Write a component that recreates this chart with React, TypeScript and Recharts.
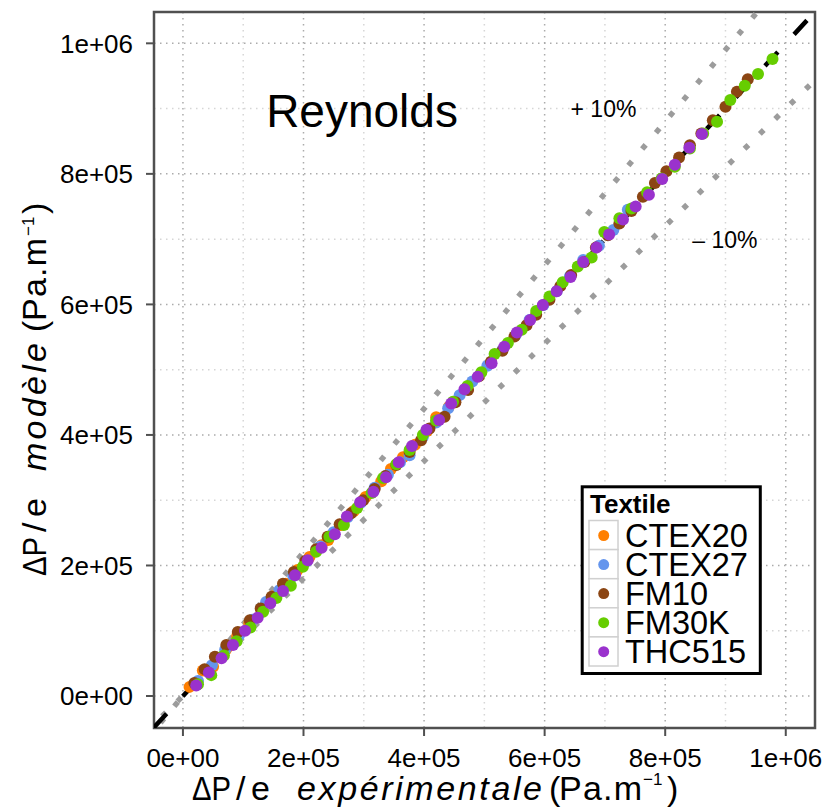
import React from 'react';
import {
  ScatterChart,
  Scatter,
  XAxis,
  YAxis,
  CartesianGrid,
  ReferenceArea,
  Legend,
} from 'recharts';

const FONT = '"Liberation Sans", Arial, Helvetica, sans-serif';

// Axes
const X_DOMAIN = [-48000, 1048500];
const Y_DOMAIN = [-49000, 1048000];
const TICKS = [0, 200000, 400000, 600000, 800000, 1000000];
const TICK_LABELS = ['0e+00', '2e+05', '4e+05', '6e+05', '8e+05', '1e+06'];
const MAJOR_GRID = [0, 200000, 400000, 600000, 800000, 1000000];
const MINOR_GRID = [100000, 300000, 500000, 700000, 900000];

// Series
const SERIES_NAMES = ['CTEX20', 'CTEX27', 'FM10', 'FM30K', 'THC515'];
const SERIES_COLORS = ['#FF7F00', '#6495ED', '#8B4513', '#66CD00', '#9A32CD'];

const ctex20X = [11000, 33000, 50000, 72000, 90000, 110000, 130000, 150000, 171000, 190000, 210000, 230000, 241000, 262000, 283000, 303000, 329000, 345000, 365000, 385000, 405000, 420000, 441000];
const ctex20Y = [14000, 39000, 45000, 72000, 92000, 112000, 133000, 153000, 172000, 193000, 213000, 231000, 239000, 262000, 283000, 305000, 329000, 348000, 366000, 385000, 406000, 427000, 443000];

const ctex27X = [25000, 48000, 70000, 93000, 115000, 138000, 160000, 183000, 205000, 228000, 250000, 273000, 295000, 318000, 340000, 360000, 376000, 398000, 420000, 440000, 459000, 480000, 505000, 530000, 552000, 575000, 598000, 620000, 642000, 664000, 690000, 714000, 738000];
const ctex27Y = [23000, 47000, 71000, 93000, 117000, 144000, 162000, 184000, 206000, 229000, 251000, 274000, 296000, 319000, 339000, 358000, 369000, 397000, 419000, 441000, 461000, 482000, 506000, 530000, 553000, 576000, 599000, 620000, 643000, 668000, 690000, 714000, 745000];

const fm10X = [19000, 36000, 53000, 72000, 91000, 111000, 129000, 147000, 166000, 184000, 203000, 221000, 240000, 260000, 279000, 299000, 318000, 336000, 354000, 376000, 395000, 409000, 434000, 452000, 473000, 491000, 511000, 530000, 550000, 570000, 586000, 608000, 626000, 644000, 666000, 685000, 705000, 724000, 744000, 763000, 783000, 802000, 823000, 841000, 860000, 879000, 900000, 919000, 937000];
const fm10Y = [20000, 41000, 60000, 78000, 98000, 116000, 134000, 152000, 172000, 190000, 207000, 225000, 244000, 263000, 280000, 300000, 317000, 337000, 354000, 374000, 392000, 410000, 428000, 450000, 469000, 490000, 512000, 529000, 551000, 568000, 584000, 607000, 628000, 645000, 665000, 687000, 706000, 724000, 743000, 765000, 786000, 804000, 825000, 844000, 862000, 882000, 903000, 926000, 945000];

const fm30kX = [25000, 47000, 68000, 89000, 112000, 133000, 155000, 179000, 199000, 221000, 243000, 267000, 289000, 313000, 332000, 354000, 376000, 398000, 420000, 448000, 472000, 495000, 517000, 539000, 562000, 586000, 608000, 630000, 655000, 678000, 699000, 724000, 744000, 770000, 794000, 816000, 841000, 863000, 886000, 908000, 932000, 954000, 978000];
const fm30kY = [18000, 32000, 62000, 84000, 105000, 129000, 150000, 169000, 198000, 221000, 244000, 262000, 288000, 311000, 334000, 355000, 377000, 400000, 422000, 451000, 475000, 496000, 524000, 541000, 561000, 590000, 612000, 634000, 658000, 672000, 711000, 732000, 747000, 772000, 793000, 811000, 839000, 862000, 880000, 913000, 935000, 953000, 976000];

const thc515X = [22000, 43000, 64000, 83000, 103000, 124000, 145000, 166000, 186000, 207000, 230000, 252000, 272000, 294000, 316000, 337000, 358000, 380000, 404000, 425000, 445000, 467000, 489000, 512000, 533000, 554000, 576000, 597000, 620000, 643000, 664000, 686000, 707000, 730000, 751000, 773000, 795000, 816000, 840000, 861000];
const thc515Y = [16000, 36000, 58000, 78000, 100000, 120000, 142000, 161000, 185000, 208000, 227000, 248000, 275000, 297000, 313000, 335000, 358000, 383000, 408000, 423000, 448000, 470000, 489000, 510000, 535000, 557000, 576000, 599000, 620000, 642000, 665000, 687000, 707000, 730000, 750000, 768000, 792000, 814000, 840000, 861000];

const SERIES_X = [ctex20X, ctex27X, fm10X, fm30kX, thc515X];
const SERIES_Y = [ctex20Y, ctex27Y, fm10Y, fm30kY, thc515Y];

// Reference lines (y = x, +10 %, -10 %)
const IDENTITY_LINE = [
  { x: -48500, y: -48500 },
  { x: 1048500, y: 1048500 },
];
const PLUS10_LINE = [
  { x: -60000, y: -66000 },
  { x: 1000000, y: 1100000 },
];
const MINUS10_LINE = [
  { x: -60000, y: -54000 },
  { x: 1100000, y: 990000 },
];

// Annotations
const ANNOTATION_TEXT = ['Reynolds', '+ 10%', '\u2013 10%'];
const ANNOTATION_X = [138000, 643000, 845000];
const ANNOTATION_Y = [872000, 887000, 686000];
const ANNOTATION_SIZE = [46, 23, 23];

const zip = (xs: number[], ys: number[]) => xs.map((x, i) => ({ x, y: ys[i] }));

const tickFmt = (v: number) => {
  const i = TICKS.indexOf(v);
  return i >= 0 ? TICK_LABELS[i] : '';
};

const XLabel = () => (
  <g fontFamily={FONT} fill="#000">
    <text x={192} y={800} fontSize={34} textLength={39} lengthAdjust="spacingAndGlyphs">ΔP</text>
    <text x={236} y={800} fontSize={34}>/</text>
    <text x={251} y={800} fontSize={34}>e</text>
    <text x={297} y={800} fontSize={34} fontStyle="italic" textLength={245} lengthAdjust="spacing">
      expérimentale
    </text>
    <text x={549} y={800} fontSize={34}>(</text>
    <text x={559} y={800} fontSize={34} textLength={83} lengthAdjust="spacing">Pa.m</text>
    <text x={643} y={785} fontSize={17}>{'\u22121'}</text>
    <text x={667} y={800} fontSize={34}>)</text>
  </g>
);

const YLabel = () => (
  <g transform="translate(46,576) rotate(-90)" fontFamily={FONT} fill="#000">
    <text x={0} y={0} fontSize={34} textLength={39} lengthAdjust="spacingAndGlyphs">ΔP</text>
    <text x={44} y={0} fontSize={34}>/</text>
    <text x={59} y={0} fontSize={34}>e</text>
    <text x={105} y={0} fontSize={34} fontStyle="italic" textLength={128} lengthAdjust="spacing">
      modèle
    </text>
    <text x={244} y={0} fontSize={34}>(</text>
    <text x={255} y={0} fontSize={34} textLength={83} lengthAdjust="spacing">Pa.m</text>
    <text x={340} y={-12} fontSize={17}>{'\u22121'}</text>
    <text x={362} y={0} fontSize={34}>)</text>
  </g>
);

const LegendBox = () => (
  <svg width={182} height={191} style={{ display: 'block' }}>
    <rect x={2.2} y={1.8} width={178.1} height={186.7} fill="#fff" stroke="#000" strokeWidth={3} />
    <text x={10} y={28.2} fontFamily={FONT} fontWeight="bold" fontSize={26} fill="#000">
      Textile
    </text>
    {SERIES_NAMES.map((name, i) => (
      <g key={name}>
        <rect x={9} y={35.5 + i * 29.1} width={29} height={29.1} fill="#fff" stroke="#D0D0D0" strokeWidth={1.5} />
        <circle cx={23.7} cy={50.5 + i * 29.05} r={5.5} fill={SERIES_COLORS[i]} />
        <text x={45} y={62.2 + i * 28.9} fontFamily={FONT} fontSize={32.5} fill="#000">
          {name}
        </text>
      </g>
    ))}
  </svg>
);

const dot = (color: string) => (p: any) => <circle cx={p.cx} cy={p.cy} r={6} fill={color} />;
const noShape = () => <g />;

export default function App() {
  return (
    <div style={{ position: 'absolute', left: 0, top: 0, width: 825, height: 808, background: '#fff' }}>
      <ScatterChart width={825} height={808} margin={{ top: 12, right: 10, bottom: 0, left: 0 }}>
        <CartesianGrid
          verticalValues={MINOR_GRID}
          horizontalValues={MINOR_GRID}
          stroke="#D6D6D6"
          strokeWidth={1.5}
          strokeDasharray="1.5 4.5"
        />
        <CartesianGrid
          verticalValues={MAJOR_GRID}
          horizontalValues={MAJOR_GRID}
          stroke="#ABABAB"
          strokeWidth={1.5}
          strokeDasharray="1.5 4.5"
        />
        <XAxis
          type="number"
          dataKey="x"
          domain={X_DOMAIN}
          allowDataOverflow
          ticks={TICKS}
          tickFormatter={tickFmt}
          height={80}
          axisLine={false}
          tickSize={8}
          tickMargin={13}
          tickLine={{ stroke: '#505050', strokeWidth: 2 }}
          tick={{ fontSize: 26, fill: '#000', fontFamily: FONT }}
          label={<XLabel />}
        />
        <YAxis
          type="number"
          dataKey="y"
          domain={Y_DOMAIN}
          allowDataOverflow
          ticks={TICKS}
          tickFormatter={tickFmt}
          width={154}
          axisLine={false}
          tickSize={8}
          tickMargin={13}
          tickLine={{ stroke: '#505050', strokeWidth: 2 }}
          tick={{ fontSize: 26, fill: '#000', fontFamily: FONT }}
          label={<YLabel />}
        />
        <ReferenceArea
          x1={X_DOMAIN[0]}
          x2={X_DOMAIN[1]}
          y1={Y_DOMAIN[0]}
          y2={Y_DOMAIN[1]}
          fill="none"
          fillOpacity={0}
          stroke="#505050"
          strokeWidth={2.5}
        />
        <Scatter
          data={PLUS10_LINE}
          line={{ stroke: '#9C9C9C', strokeWidth: 5.5, strokeDasharray: '5.5 15.9' }}
          shape={noShape}
          legendType="none"
          isAnimationActive={false}
        />
        <Scatter
          data={MINUS10_LINE}
          line={{ stroke: '#9C9C9C', strokeWidth: 5.5, strokeDasharray: '5.5 15.9' }}
          shape={noShape}
          legendType="none"
          isAnimationActive={false}
        />
        <Scatter
          data={IDENTITY_LINE}
          line={{ stroke: '#000', strokeWidth: 4.5, strokeDasharray: '19 23.9' }}
          shape={noShape}
          legendType="none"
          isAnimationActive={false}
        />
        {SERIES_NAMES.map((name, i) => (
          <Scatter
            key={name}
            name={name}
            data={zip(SERIES_X[i], SERIES_Y[i])}
            fill={SERIES_COLORS[i]}
            shape={dot(SERIES_COLORS[i])}
            isAnimationActive={false}
          />
        ))}
        {ANNOTATION_TEXT.map((t, i) => (
          <Scatter
            key={t}
            data={[{ x: ANNOTATION_X[i], y: ANNOTATION_Y[i] }]}
            legendType="none"
            isAnimationActive={false}
            shape={(p: any) => (
              <text x={p.cx} y={p.cy} fontFamily={FONT} fontSize={ANNOTATION_SIZE[i]} fill="#000">
                {t}
              </text>
            )}
          />
        ))}
        <Legend
          layout="vertical"
          align="center"
          verticalAlign="middle"
          content={<LegendBox />}
          wrapperStyle={{ position: 'absolute', left: 580, top: 484.5, width: 182, height: 191 }}
        />
      </ScatterChart>
    </div>
  );
}
